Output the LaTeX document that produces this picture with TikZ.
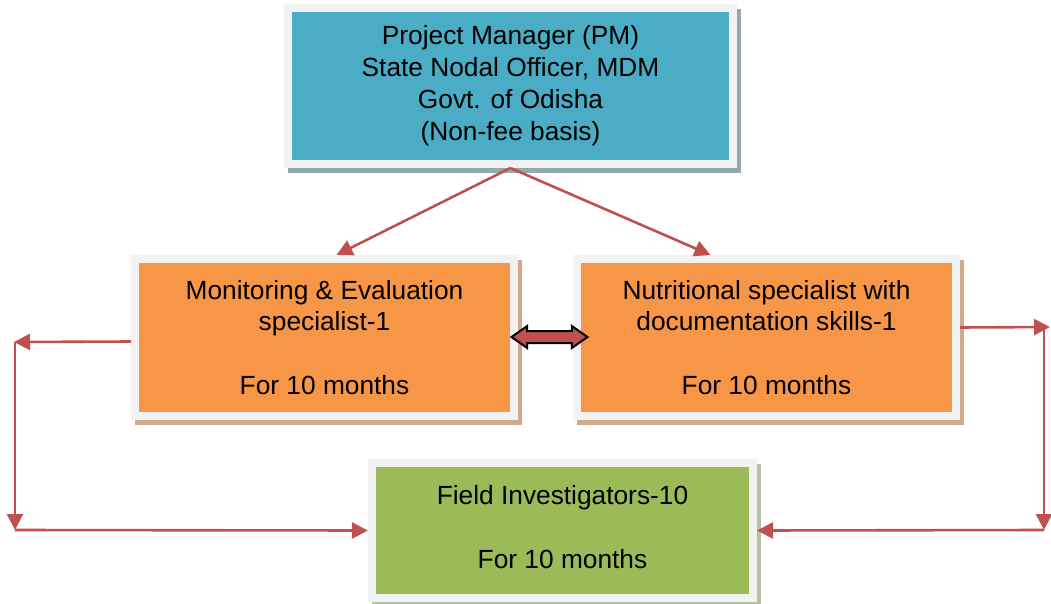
\documentclass[tikz,border=0pt]{standalone}
\usepackage{fontspec}
\setmainfont{Liberation Sans}
\usetikzlibrary{arrows.meta,shapes.arrows,shadows}
\definecolor{pmblue}{HTML}{4BACC6}
\definecolor{meorange}{HTML}{F79646}
\definecolor{figreen}{HTML}{9BBB59}
\definecolor{pmshade}{HTML}{93A9B2}
\definecolor{meshade}{HTML}{D2A98A}
\definecolor{fishade}{HTML}{B6C0A4}
\definecolor{linkred}{HTML}{C0504D}
\definecolor{framegray}{HTML}{F2F2F2}
\tikzset{
  mybox/.style={
    draw=framegray, rectangle, line width=0.2cm, inner sep=0mm, align=center,
    font=\fontsize{18.7}{22.7}\selectfont
  },
  myshadow/.style={
    general shadow={shadow xshift=0.1cm, shadow yshift=-0.12cm, fill=#1, draw=#1,
    line width=0.2cm}
  },
  myarrow/.style={
    -{Triangle[length=4mm, width=4mm]}, draw=linkred, line width=0.65mm
  }
}

\begin{document}
\begin{tikzpicture}[x=0.025cm, y=-0.025cm]
 \useasboundingbox (0,0) rectangle (1051,604);

 \node[mybox, fill=pmblue, myshadow=pmshade, minimum width=11.125cm, minimum height=3.9cm] (pm) at (510.5,86)
   {Project Manager (PM)\\State Nodal Officer, MDM\\Govt. of Odisha\\(Non-fee basis)};
 \node[mybox, fill=meorange, myshadow=meshade, minimum width=9.475cm, minimum height=3.925cm] (me) at (324.5,337.5)
   {Monitoring \& Evaluation\\specialist-1\\[22.7pt]For 10 months};
 \node[mybox, fill=meorange, myshadow=meshade, minimum width=9.475cm, minimum height=3.925cm] (ns) at (766.5,337.5)
   {Nutritional specialist with\\documentation skills-1\\[22.7pt]For 10 months};
 \node[mybox, fill=figreen, myshadow=fishade, minimum width=9.525cm, minimum height=3.375cm] (field) at (562.5,530.5)
   {\raisebox{3.5pt}{\begin{tabular}{@{}c@{}}Field Investigators-10\\[22.7pt]For 10 months\end{tabular}}};

 \node[double arrow, fill=linkred, draw=black, line width=0.5mm, minimum height=1.9cm, minimum width=0.5cm,
   inner xsep=0mm, inner ysep=0.125cm, double arrow head extend=0.125cm, double arrow tip angle=70] (dbl) at (549.5,337) {};

 \coordinate (lt) at (14,342);
 \coordinate (lb) at (15,530);
 \coordinate (rt) at (1050,327);
 \coordinate (rb) at (1044,530);

 \draw[myarrow] (pm.south) -- ([xshift=0.3cm]me.north);
 \draw[myarrow] (pm.south) -- ([xshift=-1.4cm]ns.north);
 \draw[myarrow] ([yshift=-0.1cm]me.west) -- (lt);
 \draw[myarrow] (lb |- lt) -- (lb);
 \draw[myarrow] (lb) -- (field.west);
 \draw[myarrow] ([yshift=0.25cm]ns.east) -- (rt);
 \draw[myarrow] (rb |- rt) -- (rb);
 \draw[myarrow] (rb) -- (field.east);
\end{tikzpicture}
\end{document}
